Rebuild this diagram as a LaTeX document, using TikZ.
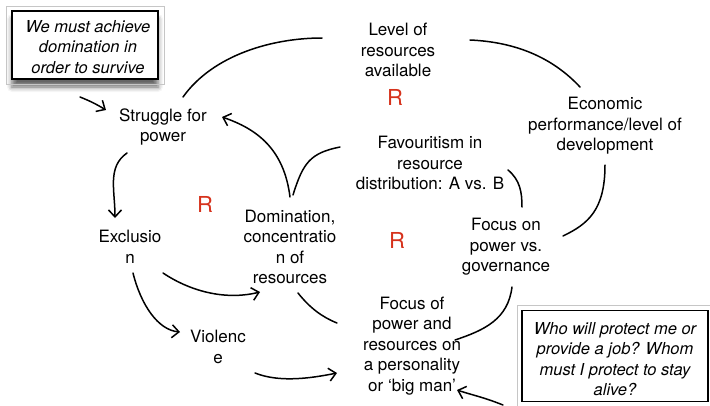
\documentclass[tikz,border=0pt]{standalone}
\usepackage{fontspec}
\setmainfont{TeX Gyre Heros}
\usetikzlibrary{arrows.meta,calc,shadows.blur}
\definecolor{loopred}{RGB}{214,50,28}
\begin{document}
\begin{tikzpicture}[x=1pt,y=-1pt,
  lbl/.style={align=center,font=\fontsize{17}{20.5}\selectfont,inner sep=0pt},
  note/.style={align=center,font=\fontsize{16.5}{20.5}\selectfont\itshape,draw=black,
    line width=1.7pt,fill=white,inner sep=0pt},
  frame/.style={draw=gray!45,line width=0.6pt},
  loop/.style={font=\fontsize{22}{22}\selectfont,text=loopred,inner sep=0pt},
  link/.style={line width=1.5pt,line cap=round},
  arr/.style={link,-{Straight Barb[length=7pt,width=13pt]}},
]
\useasboundingbox (0,0) rectangle (710,405);

% quoted mental models
\node[note,minimum width=146pt,minimum height=68pt,
  blur shadow={shadow xshift=0pt,shadow yshift=-8pt,shadow opacity=60,shadow blur radius=5pt}]
  (box1) at (85,45) {};
\node[align=center,font=\fontsize{16.5}{20.5}\selectfont\itshape] (q1) at (88,47)
  {We must achieve\\domination in\\order to survive};
\draw[frame] ($(box1.north west)+(-5,-4)$) rectangle ($(box1.south east)+(5,4)$);

\node[note,minimum width=186pt,minimum height=91pt] (box2) at (615,356) {};
\node[align=center,font=\fontsize{16.5}{20.5}\selectfont\itshape] (q2) at (615,359)
  {Who will protect me or\\provide a job? Whom\\must I protect to stay\\alive?};
\draw[frame] ($(box2.north west)+(-4,-4)$) rectangle ($(box2.south east)+(4,4)$);

% variables
\node[lbl] (struggle) at (163,127) {Struggle for\\power};
\node[lbl] (level)    at (398,50)  {Level of\\resources\\available};
\node[lbl] (econ)     at (605,126) {Economic\\performance/level of\\development};
\node[lbl] (favour)   at (430,163) {Favouritism in\\resource\\distribution: A vs. B};
\node[lbl] (domin)    at (290,247) {Domination,\\concentratio\\n of\\resources};
\node[lbl] (excl)     at (130,247) {Exclusio\\n};
\node[lbl] (focuspow) at (506,247) {Focus on\\power vs.\\governance};
\node[lbl] (viol)     at (218,347) {Violenc\\e};
\node[lbl] (focusof)  at (412,346) {Focus of\\power and\\resources on\\a personality\\or ‘big man’};

% loop markers
\node[loop] (r1) at (395,97)  {R};
\node[loop] (r2) at (205,204) {R};
\node[loop] (r3) at (397,240) {R};

% connectors
\draw[arr] ($(box1)+(-5,52)$) .. controls +(10,4) and +(-10,-6) .. ($(struggle)+(-57,-17)$);
\draw[link] ($(struggle)+(20,-30)$) .. controls +(30,-42) and +(-50,0) .. ($(level)+(-76,-12)$);
\draw[link] ($(level)+(72,-10)$) .. controls +(45,2) and +(-28,-30) .. ($(econ)+(-25,-39)$);
\draw[link] ($(econ)+(0,39)$) .. controls +(0,45) and +(25,-12) .. ($(focuspow)+(57,-11)$);
\draw[link] ($(favour)+(78,7)$) .. controls +(12,10) and +(0,-15) .. ($(focuspow)+(16,-40)$);
\draw[link] ($(domin)+(3,-52)$) .. controls +(10,-32) and +(-30,6) .. ($(favour)+(-90,-16)$);
\draw[arr] ($(domin)+(0,-50)$) .. controls +(-6,-48) and +(35,12) .. ($(struggle)+(59,-10)$);
\draw[arr] ($(struggle)+(-36,26)$) .. controls +(-20,14) and +(0,-28) .. ($(excl)+(-15,-29)$);
\draw[arr] ($(excl)+(33,26)$) .. controls +(30,20) and +(-32,8) .. ($(domin)+(-30,45)$);
\draw[arr] ($(excl)+(3,26)$) .. controls +(8,32) and +(-22,-2) .. ($(viol)+(-38,-15)$);
\draw[arr] ($(viol)+(37,26)$) .. controls +(25,10) and +(-25,5) .. ($(focusof)+(-75,27)$);
\draw[link] ($(domin)+(8,46)$) .. controls +(12,15) and +(-15,-6) .. ($(focusof)+(-75,-23)$);
\draw[link] ($(focuspow)+(6,40)$) .. controls +(-4,32) and +(30,-10) .. ($(focusof)+(43,-6)$);
\draw[arr] ($(box2)+(-112,49)$) .. controls +(-20,-8) and +(15,5) .. ($(focusof)+(45,44)$);
\end{tikzpicture}
\end{document}
